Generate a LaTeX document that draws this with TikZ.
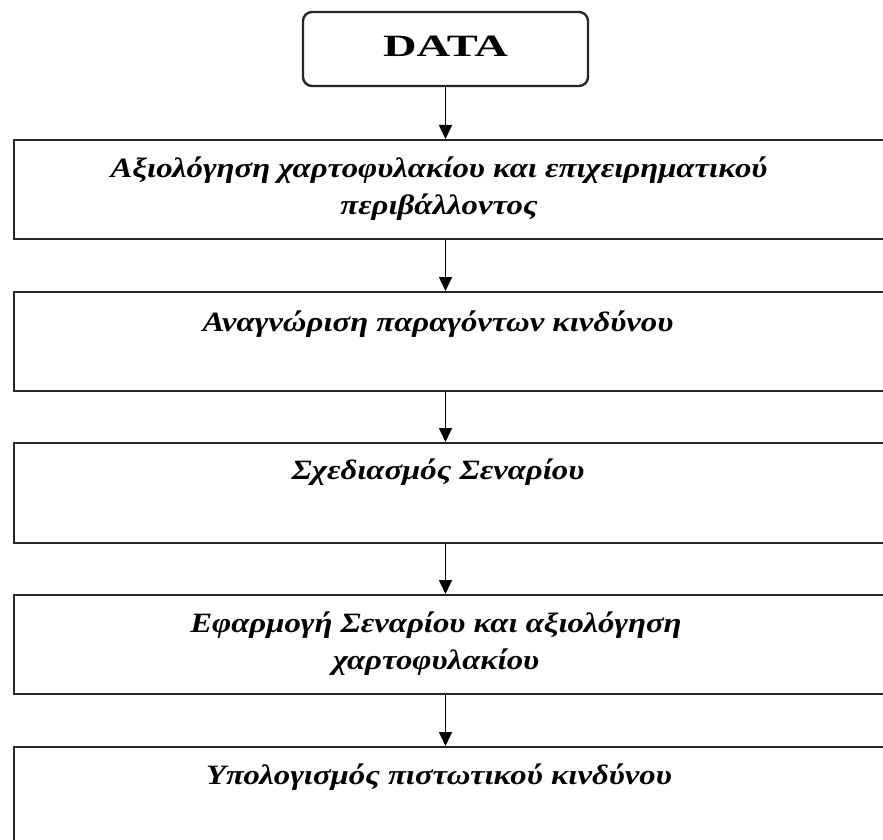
\documentclass[tikz,border=0pt]{standalone}
\usepackage{fontspec}
\setmainfont{Liberation Serif}
\usetikzlibrary{arrows.meta}
\newcommand\widetxt[1]{\scalebox{1.17}[1]{#1}}
\tikzset{
  stepbox/.style={draw=black!85, line width=2.4pt, rectangle, inner sep=0pt, anchor=north west},
  txt/.style={font=\fontsize{28}{37}\selectfont\bfseries\itshape, align=center, inner sep=0pt, text=black},
  flow/.style={draw=black, line width=1.6pt, -{Triangle[width=13pt,length=14pt]}}
}
\begin{document}
\begin{tikzpicture}[x=1pt,y=-1pt]
\useasboundingbox (0,0) rectangle (883,840);
\clip (0,0) rectangle (883,840);
\node[draw=black!85, line width=2.4pt, rounded corners=9pt, minimum width=285pt, minimum height=74pt, inner sep=0pt, font=\fontsize{31}{36}\selectfont\bfseries] (data) at (445.5,49) {\raisebox{6pt}{\scalebox{1.5}[1]{DATA}}};
\node[stepbox, minimum width=900pt, minimum height=99pt] (b1) at (13,139) {};
\node[stepbox, minimum width=900pt, minimum height=99pt] (b2) at (13,291) {};
\node[stepbox, minimum width=900pt, minimum height=100pt] (b3) at (13,442) {};
\node[stepbox, minimum width=900pt, minimum height=99pt] (b4) at (13,594) {};
\node[stepbox, minimum width=900pt, minimum height=120pt] (b5) at (13,746) {};
\node[txt] (t1) at (439,189) {\widetxt{Αξιολόγηση χαρτοφυλακίου και επιχειρηματικού}\\\widetxt{περιβάλλοντος}};
\node[txt] (t2) at (438,324) {\widetxt{Αναγνώριση παραγόντων κινδύνου}};
\node[txt] (t3) at (438,472) {\widetxt{Σχεδιασμός Σεναρίου}};
\node[txt] (t4) at (436,644) {\widetxt{Εφαρμογή Σεναρίου και αξιολόγηση}\\\widetxt{χαρτοφυλακίου}};
\node[txt] (t5) at (439,777) {\widetxt{Υπολογισμός πιστωτικού κινδύνου}};
\draw[flow] (data.south) -- (data.south |- b1.north);
\draw[flow] (data.south |- b1.south) -- (data.south |- b2.north);
\draw[flow] (data.south |- b2.south) -- (data.south |- b3.north);
\draw[flow] (data.south |- b3.south) -- (data.south |- b4.north);
\draw[flow] (data.south |- b4.south) -- (data.south |- b5.north);
\end{tikzpicture}
\end{document}
